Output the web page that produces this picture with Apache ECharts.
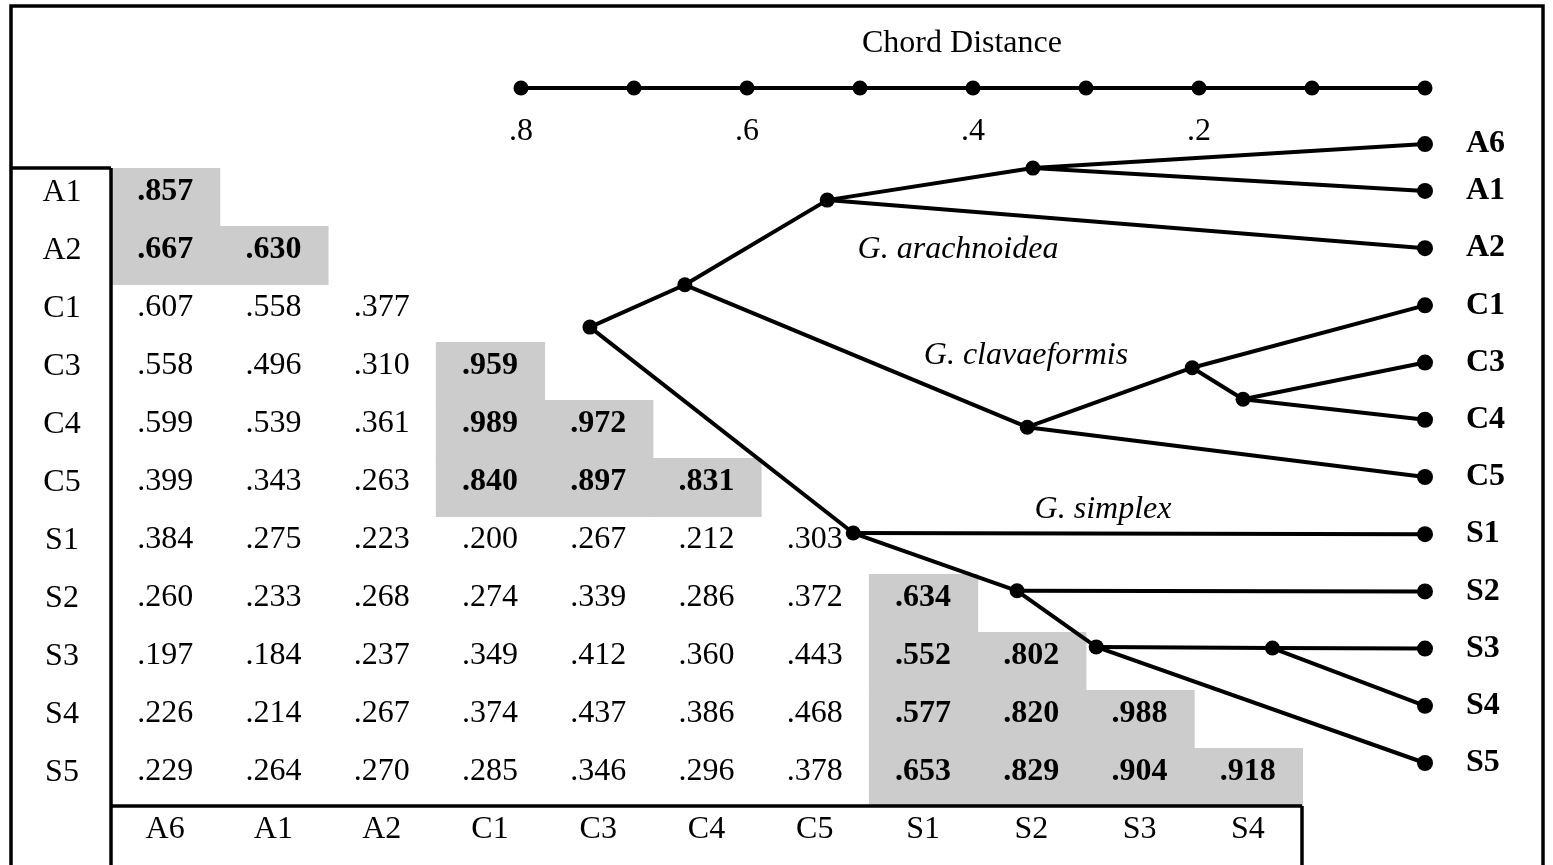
<!DOCTYPE html>
<html>
<head>
<meta charset="utf-8">
<title>Similarity matrix and chord distance dendrogram</title>
<script src="https://cdn.jsdelivr.net/npm/echarts@6/dist/echarts.min.js"></script>
<style>
  html, body { margin: 0; padding: 0; background: #fff; }
  #chart { width: 1553px; height: 865px; }
</style>
</head>
<body>
<div id="chart"></div>
<script>
// 表格的行列标签
var colLabels = ["A6", "A1", "A2", "C1", "C3", "C4", "C5", "S1", "S2", "S3", "S4"];
var rowLabels = ["A1", "A2", "C1", "C3", "C4", "C5", "S1", "S2", "S3", "S4", "S5"];

// 下三角相似度，每行一个数组
var simA1 = [0.857];
var simA2 = [0.667, 0.630];
var simC1 = [0.607, 0.558, 0.377];
var simC3 = [0.558, 0.496, 0.310, 0.959];
var simC4 = [0.599, 0.539, 0.361, 0.989, 0.972];
var simC5 = [0.399, 0.343, 0.263, 0.840, 0.897, 0.831];
var simS1 = [0.384, 0.275, 0.223, 0.200, 0.267, 0.212, 0.303];
var simS2 = [0.260, 0.233, 0.268, 0.274, 0.339, 0.286, 0.372, 0.634];
var simS3 = [0.197, 0.184, 0.237, 0.349, 0.412, 0.360, 0.443, 0.552, 0.802];
var simS4 = [0.226, 0.214, 0.267, 0.374, 0.437, 0.386, 0.468, 0.577, 0.820, 0.988];
var simS5 = [0.229, 0.264, 0.270, 0.285, 0.346, 0.296, 0.378, 0.653, 0.829, 0.904, 0.918];
var simRows = [simA1, simA2, simC1, simC3, simC4, simC5, simS1, simS2, simS3, simS4, simS5];

// 树状图：叶子 (距离 0) 和内部节点 (弦距离)
var leafNames = ["A6", "A1", "A2", "C1", "C3", "C4", "C5", "S1", "S2", "S3", "S4", "S5"];
var leafRows = [-0.82, 0, 1, 2, 3, 4, 5, 6, 7, 8, 9, 10];
var nodeNames = ["A6A1", "A", "AC", "root", "C", "C1x", "C34", "S", "S2x", "S3x", "S34"];
var nodeDist = [0.347, 0.529, 0.655, 0.739, 0.352, 0.206, 0.161, 0.506, 0.361, 0.291, 0.135];
var nodeRows = [-0.40, 0.16, 1.64, 2.38, 4.13, 3.09, 3.64, 5.98, 6.99, 7.97, 7.99];
var edges = [
    ["root", "AC"], ["root", "S"],
    ["AC", "A"], ["AC", "C"],
    ["A", "A6A1"], ["A", "A2"], ["A6A1", "A6"], ["A6A1", "A1"],
    ["C", "C1x"], ["C", "C5"], ["C1x", "C1"], ["C1x", "C34"], ["C34", "C3"], ["C34", "C4"],
    ["S", "S1"], ["S", "S2x"], ["S2x", "S2"], ["S2x", "S3x"],
    ["S3x", "S34"], ["S3x", "S5"], ["S34", "S3"], ["S34", "S4"]
];
// 弦距离刻度
var scaleTicks = [0, 0.1, 0.2, 0.3, 0.4, 0.5, 0.6, 0.7, 0.8];
var scaleLabels = [0.8, 0.6, 0.4, 0.2];
var cladeNames = ["G. arachnoidea", "G. clavaeformis", "G. simplex"];
var scaleTitle = "Chord Distance";

(function () {
    var FONT = "'Liberation Serif', 'Times New Roman', serif";
    var FS = 32;
    var SCALE_ROW = -1.8;
    var myChart = echarts.init(document.getElementById("chart"));

    function fmt(v) {
        return v.toFixed(3).slice(1);
    }

    // 矩阵单元格数据 [列, 行, 值, 是否同种]
    var cells = [];
    simRows.forEach(function (row, r) {
        row.forEach(function (v, c) {
            var same = rowLabels[r].charAt(0) === colLabels[c].charAt(0) ? 1 : 0;
            cells.push([c, r, v, same]);
        });
    });

    var nodes = [];
    leafNames.forEach(function (n, i) {
        nodes.push({
            name: n,
            value: [0, leafRows[i]],
            symbolSize: 16,
            label: {
                show: true,
                position: "right",
                distance: 33,
                formatter: n,
                color: "#000",
                fontFamily: FONT,
                fontWeight: "bold",
                fontSize: FS
            }
        });
    });
    nodeNames.forEach(function (n, i) {
        nodes.push({ name: n, value: [nodeDist[i], nodeRows[i]], label: { show: false } });
    });

    var option = {
        backgroundColor: "#fff",
        animation: false,
        grid: [
            // 相似度矩阵
            { left: 111, right: 251, top: 168, bottom: 59 },
            // 树状图
            { left: 521, right: 128, top: 88, bottom: 73.4 }
        ],
        xAxis: [
            {
                type: "category",
                gridIndex: 0,
                data: colLabels,
                position: "bottom",
                axisLine: { show: false },
                axisTick: { show: false },
                splitLine: { show: false },
                axisLabel: {
                    color: "#000",
                    fontFamily: FONT,
                    fontSize: FS,
                    margin: 8
                }
            },
            {
                type: "value",
                gridIndex: 1,
                inverse: true,
                min: 0,
                max: 0.8,
                interval: 0.2,
                position: "top",
                axisLine: { show: false },
                axisTick: { show: false },
                splitLine: { show: false },
                axisLabel: {
                    inside: true,
                    margin: 28,
                    color: "#000",
                    fontFamily: FONT,
                    fontSize: FS,
                    formatter: function (v) {
                        return scaleLabels.indexOf(v) >= 0 ? fmt(v).replace(/0+$/, "") : "";
                    }
                }
            }
        ],
        yAxis: [
            {
                type: "category",
                gridIndex: 0,
                data: rowLabels,
                inverse: true,
                axisLine: { show: false },
                axisTick: { show: false },
                splitLine: { show: false },
                axisLabel: {
                    color: "#000",
                    fontFamily: FONT,
                    fontSize: FS,
                    align: "center",
                    verticalAlign: "bottom",
                    lineHeight: 8,
                    margin: 49
                }
            },
            {
                type: "value",
                gridIndex: 1,
                inverse: true,
                min: SCALE_ROW,
                max: 10.5,
                show: false
            }
        ],
        series: [
            {
                name: "similarity",
                type: "custom",
                xAxisIndex: 0,
                yAxisIndex: 0,
                data: cells,
                renderItem: function (params, api) {
                    var p = api.coord([api.value(0), api.value(1)]);
                    var s = api.size([1, 1]);
                    var same = api.value(3);
                    var children = [];
                    if (same) {
                        children.push({
                            type: "rect",
                            shape: { x: p[0] - s[0] / 2, y: p[1] - s[1] / 2, width: s[0] + 1, height: s[1] + 1 },
                            style: { fill: "#cccccc" }
                        });
                    }
                    children.push({
                        type: "text",
                        style: {
                            text: fmt(api.value(2)),
                            x: p[0],
                            y: p[1] - 5,
                            align: "center",
                            verticalAlign: "middle",
                            fill: "#000",
                            font: (same ? "bold " : "") + FS + "px " + FONT
                        }
                    });
                    return { type: "group", children: children };
                }
            },
            {
                name: "scale",
                type: "line",
                xAxisIndex: 1,
                yAxisIndex: 1,
                data: scaleTicks.map(function (t) { return [t, SCALE_ROW]; }),
                symbol: "circle",
                symbolSize: 15,
                showAllSymbol: true,
                itemStyle: { color: "#000" },
                lineStyle: { color: "#000", width: 4 },
                clip: false,
                z: 5
            },
            {
                name: "tree",
                type: "graph",
                coordinateSystem: "cartesian2d",
                xAxisIndex: 1,
                yAxisIndex: 1,
                symbol: "circle",
                symbolSize: 15,
                itemStyle: { color: "#000" },
                lineStyle: { color: "#000", width: 4, opacity: 1, curveness: 0 },
                edgeSymbol: ["none", "none"],
                data: nodes,
                links: edges.map(function (e) { return { source: e[0], target: e[1] }; }),
                z: 6
            }
        ],
        graphic: [
            // 外框
            { type: "rect", z: 100, shape: { x: 11, y: 6, width: 1532, height: 900 }, style: { fill: "none", stroke: "#000", lineWidth: 3.5 } },
            // 行标签框
            { type: "line", z: 100, shape: { x1: 11, y1: 168, x2: 111, y2: 168 }, style: { stroke: "#000", lineWidth: 3.5 } },
            { type: "line", z: 100, shape: { x1: 111, y1: 168, x2: 111, y2: 870 }, style: { stroke: "#000", lineWidth: 3.5 } },
            // 列标签框
            { type: "line", z: 100, shape: { x1: 111, y1: 806, x2: 1302, y2: 806 }, style: { stroke: "#000", lineWidth: 3.5 } },
            { type: "line", z: 100, shape: { x1: 1302, y1: 806, x2: 1302, y2: 870 }, style: { stroke: "#000", lineWidth: 3.5 } },
            // 标题和物种名
            { type: "text", z: 100, x: 962, y: 44, style: { text: scaleTitle, align: "center", verticalAlign: "middle", fill: "#000", font: FS + "px " + FONT } },
            { type: "text", z: 100, x: 958, y: 250, style: { text: cladeNames[0], align: "center", verticalAlign: "middle", fill: "#000", font: "italic " + FS + "px " + FONT } },
            { type: "text", z: 100, x: 1026, y: 356, style: { text: cladeNames[1], align: "center", verticalAlign: "middle", fill: "#000", font: "italic " + FS + "px " + FONT } },
            { type: "text", z: 100, x: 1103, y: 510, style: { text: cladeNames[2], align: "center", verticalAlign: "middle", fill: "#000", font: "italic " + FS + "px " + FONT } }
        ]
    };
    myChart.setOption(option);
    window.addEventListener("resize", function () {
        myChart.resize();
    });
})();
</script>
</body>
</html>
